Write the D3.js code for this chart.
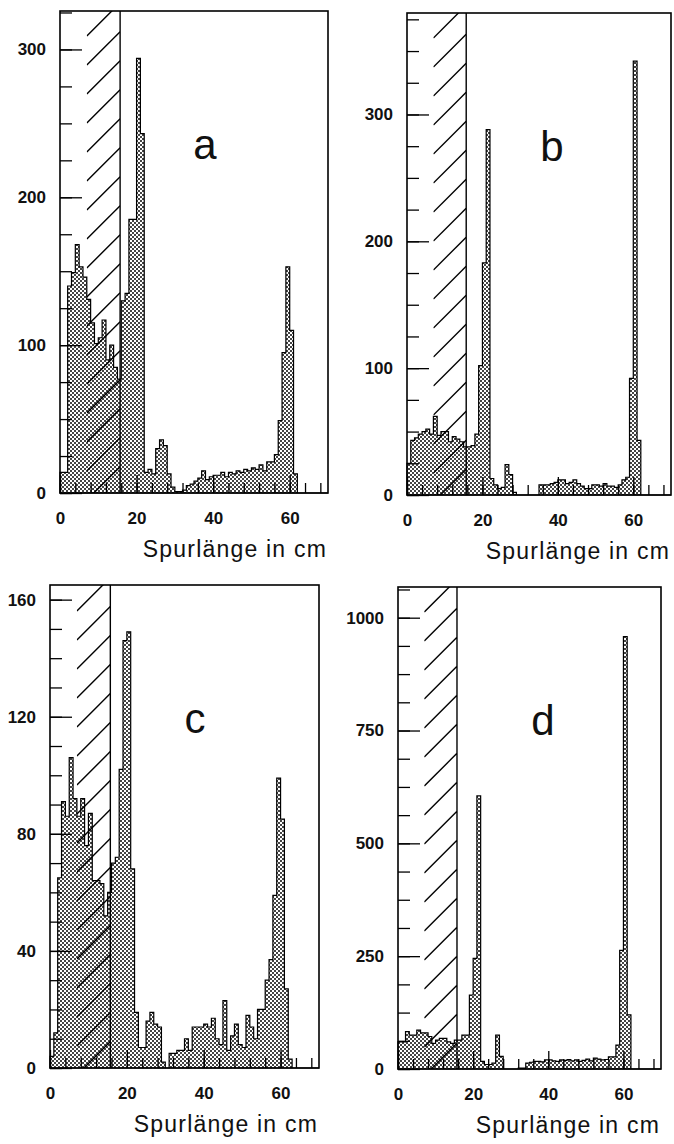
<!DOCTYPE html>
<html>
<head>
<meta charset="utf-8">
<script src="https://cdn.jsdelivr.net/npm/d3@7/dist/d3.min.js"></script>
<style>
  body { margin: 0; background: #fff; }
  text { font-family: "Liberation Sans", Arial, Helvetica, sans-serif; fill: #111; }
</style>
</head>
<body>
<svg id="fig" width="674" height="1144"></svg>
<script>
// histogram contents, 1 cm bins from 0 to 70 cm
var binWidth = 1;
var countsA = [14, 14, 140, 149, 168, 153, 146, 131, 115, 101,
               105, 117, 90, 100, 85, 77, 130, 135, 185, 185,
               294, 243, 14, 16, 13, 30, 36, 32, 13, 4,
               1, 1, 2, 5, 6, 8, 10, 15, 9, 11,
               12, 12, 14, 11, 14, 13, 15, 14, 16, 15,
               17, 16, 19, 15, 21, 21, 26, 49, 95, 153,
               110, 13, 0, 0, 0, 0, 0, 0, 0, 0];
var countsB = [25, 43, 45, 48, 50, 52, 48, 62, 47, 50,
               50, 42, 46, 44, 42, 38, 38, 39, 48, 102,
               183, 288, 13, 8, 5, 6, 24, 16, 2, 0,
               0, 0, 0, 0, 0, 8, 8, 8, 9, 10,
               12, 12, 9, 10, 12, 9, 7, 5, 5, 8,
               8, 7, 9, 7, 7, 6, 8, 12, 14, 92,
               342, 43, 0, 0, 0, 0, 0, 0, 0, 0];
var countsC = [4, 12, 65, 91, 86, 106, 92, 86, 92, 76,
               87, 64, 64, 63, 52, 60, 70, 72, 102, 146,
               149, 68, 19, 7, 7, 16, 19, 15, 14, 2,
               0, 5, 5, 6, 6, 10, 6, 14, 14, 14,
               15, 14, 17, 10, 8, 23, 6, 11, 15, 8,
               7, 18, 14, 10, 20, 20, 30, 37, 59, 99,
               85, 27, 3, 0, 0, 0, 0, 0, 0, 0];
var countsD = [60, 60, 83, 75, 75, 86, 80, 80, 72, 57,
               64, 68, 68, 60, 57, 64, 64, 75, 75, 164,
               245, 605, 17, 10, 10, 13, 75, 28, 0, 0,
               0, 0, 2, 2, 13, 15, 17, 17, 16, 20,
               20, 18, 17, 20, 19, 21, 18, 20, 17, 19,
               22, 18, 24, 22, 20, 21, 27, 27, 53, 263,
               958, 120, 0, 0, 0, 0, 0, 0, 0, 0];

var xDomain = [0, 70];
var xMajorTicks = [0, 20, 40, 60];
var xMinorStep = 4;
var hatchRange = [7, 15.7];   // excluded track lengths (cm)
var xTitle = "Spurlänge in cm";

var yMajorA = [0, 100, 200, 300];
var yMajorB = [0, 100, 200, 300];
var yMajorC = [0, 40, 80, 120, 160];
var yMajorD = [0, 250, 500, 750, 1000];

// layout of the four panels (pixels)
var panels = [
  { letter: "a", counts: countsA, yMax: 326,  yMajor: yMajorA, yMinor: 25,
    left: 60,  right: 328, top: 11,  bottom: 493 },
  { letter: "b", counts: countsB, yMax: 380,  yMajor: yMajorB, yMinor: 25,
    left: 407, right: 671, top: 13,  bottom: 495 },
  { letter: "c", counts: countsC, yMax: 165,  yMajor: yMajorC, yMinor: 10,
    left: 50,  right: 319, top: 585, bottom: 1068 },
  { letter: "d", counts: countsD, yMax: 1068, yMajor: yMajorD, yMinor: 62.5,
    left: 398, right: 661, top: 587, bottom: 1069 }
];

var svg = d3.select("#fig");
var defs = svg.append("defs");

// dotted raster used for the filled histograms
var pat = defs.append("pattern")
  .attr("id", "stipple")
  .attr("patternUnits", "userSpaceOnUse")
  .attr("width", 4).attr("height", 4);
pat.append("rect").attr("width", 4).attr("height", 4).attr("fill", "#fff");
pat.append("rect").attr("x", 0).attr("y", 0).attr("width", 2).attr("height", 2).attr("fill", "#444");
pat.append("rect").attr("x", 2).attr("y", 2).attr("width", 2).attr("height", 2).attr("fill", "#444");

panels.forEach(function(p, pi) {
  var x = d3.scaleLinear().domain(xDomain).range([p.left, p.right]);
  var y = d3.scaleLinear().domain([0, p.yMax]).range([p.bottom, p.top]);
  var g = svg.append("g").attr("class", "panel-" + p.letter);

  // histogram (step outline + stipple)
  var bins = p.counts.map(function(v, i) { return { x: i * binWidth, v: v }; });
  bins.push({ x: p.counts.length * binWidth, v: p.counts[p.counts.length - 1] });
  var area = d3.area()
    .curve(d3.curveStepAfter)
    .x(function(d) { return x(d.x); })
    .y0(y(0))
    .y1(function(d) { return y(d.v); });
  g.append("path")
    .attr("d", area(bins))
    .attr("fill", "url(#stipple)")
    .attr("stroke", "#000")
    .attr("stroke-width", 1.2)
    .attr("stroke-linejoin", "miter");

  // hatched band of excluded lengths
  var hx0 = x(hatchRange[0]), hx1 = x(hatchRange[1]), hw = hx1 - hx0;
  var clipId = "hclip" + pi;
  defs.append("clipPath").attr("id", clipId)
    .append("rect")
    .attr("x", hx0).attr("y", p.top)
    .attr("width", hw).attr("height", p.bottom - p.top);
  var hatchY = [];
  for (var yy = p.bottom + 7; yy - hw > p.top - 30; yy -= 29) hatchY.push(yy);
  g.append("g").attr("clip-path", "url(#" + clipId + ")")
    .selectAll("line").data(hatchY).enter().append("line")
    .attr("x1", hx0).attr("y1", function(d) { return d; })
    .attr("x2", hx1).attr("y2", function(d) { return d - hw; })
    .attr("stroke", "#000").attr("stroke-width", 1.4);
  g.append("line")
    .attr("x1", hx1).attr("x2", hx1)
    .attr("y1", p.bottom).attr("y2", p.top)
    .attr("stroke", "#000").attr("stroke-width", 1.4);

  // y ticks (inward)
  var yMinorTicks = d3.range(0, p.yMax, p.yMinor);
  g.append("g").attr("transform", "translate(" + p.left + ",0)")
    .call(d3.axisLeft(y).tickValues(yMinorTicks).tickSize(-12).tickFormat(""))
    .call(function(s) { s.select(".domain").remove(); });
  var yMaj = g.append("g").attr("transform", "translate(" + p.left + ",0)")
    .call(d3.axisLeft(y).tickValues(p.yMajor).tickSize(-22).tickFormat(d3.format("d")));
  yMaj.select(".domain").remove();
  yMaj.selectAll("text")
    .attr("x", -14)
    .style("font-size", "17px").style("font-weight", "bold")
    .attr("fill", "#111");

  // x ticks (inward)
  var xMinorTicks = d3.range(xDomain[0], xDomain[1], xMinorStep);
  g.append("g").attr("transform", "translate(0," + p.bottom + ")")
    .call(d3.axisBottom(x).tickValues(xMinorTicks).tickSize(-10).tickFormat(""))
    .call(function(s) { s.select(".domain").remove(); });
  var xMaj = g.append("g").attr("transform", "translate(0," + p.bottom + ")")
    .call(d3.axisBottom(x).tickValues(xMajorTicks).tickSize(-18).tickFormat(d3.format("d")));
  xMaj.select(".domain").remove();
  xMaj.selectAll("text")
    .attr("y", 31).attr("dy", 0)
    .style("font-size", "17px").style("font-weight", "bold")
    .attr("fill", "#111");
  g.selectAll(".tick line").attr("stroke", "#000").attr("stroke-width", 1.3);

  // frame
  g.append("rect")
    .attr("x", p.left).attr("y", p.top)
    .attr("width", p.right - p.left).attr("height", p.bottom - p.top)
    .attr("fill", "none").attr("stroke", "#000").attr("stroke-width", 1.6);

  // panel letter
  g.append("text")
    .attr("x", p.left + 145).attr("y", p.top + 148)
    .attr("text-anchor", "middle")
    .style("font-size", "42px")
    .text(p.letter);

  // axis title
  g.append("text")
    .attr("x", p.right - 1).attr("y", p.bottom + 64)
    .attr("text-anchor", "end")
    .style("font-size", "23px").style("letter-spacing", "1.2px")
    .text(xTitle);
});
</script>
</body>
</html>
